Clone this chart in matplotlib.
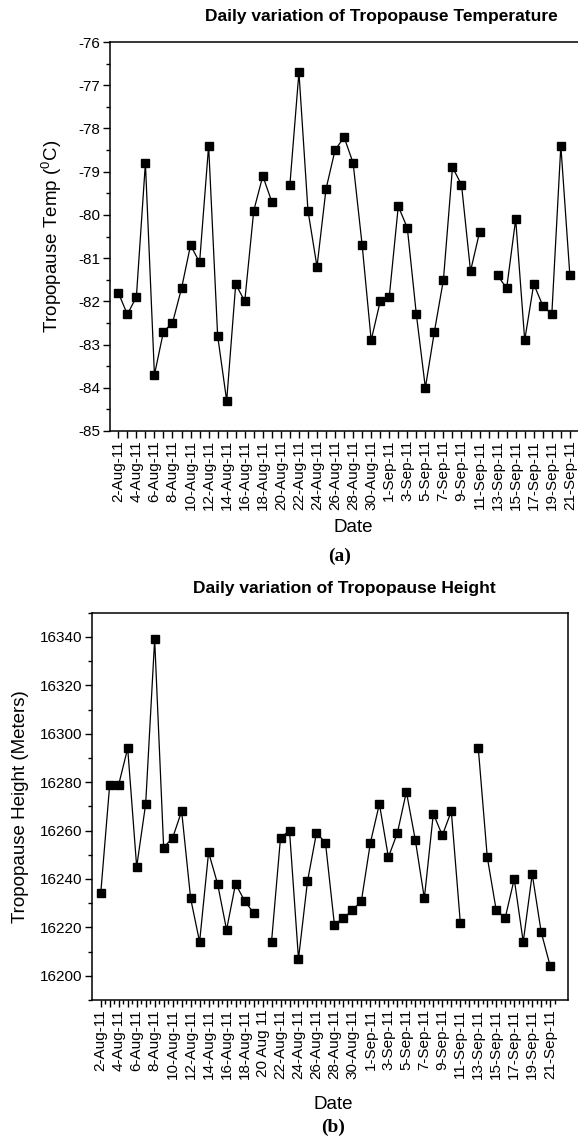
import numpy as np
import matplotlib
matplotlib.use("Agg")
import matplotlib.pyplot as plt
from matplotlib.ticker import MultipleLocator

plt.rcParams['font.family'] = ['Liberation Sans', 'DejaVu Sans']
plt.rcParams['axes.unicode_minus'] = False
plt.rcParams['mathtext.fontset'] = 'custom'
plt.rcParams['mathtext.rm'] = 'Liberation Sans'

# daily values 2-Aug-11 .. 21-Sep-11 (51 days), nan = no sounding
temp = [-81.8, -82.3, -81.9, -78.8, -83.7, -82.7, -82.5, -81.7, -80.7, -81.1,
        -78.4, -82.8, -84.3, -81.6, -82.0, -79.9, -79.1, -79.7, np.nan, -79.3,
        -76.7, -79.9, -81.2, -79.4, -78.5, -78.2, -78.8, -80.7, -82.9, -82.0,
        -81.9, -79.8, -80.3, -82.3, -84.0, -82.7, -81.5, -78.9, -79.3, -81.3,
        -80.4, np.nan, -81.4, -81.7, -80.1, -82.9, -81.6, -82.1, -82.3, -78.4,
        -81.4]
height = [16234, 16279, 16279, 16294, 16245, 16271, 16339, 16253, 16257, 16268,
          16232, 16214, 16251, 16238, 16219, 16238, 16231, 16226, np.nan, 16214,
          16257, 16260, 16207, 16239, 16259, 16255, 16221, 16224, 16227, 16231,
          16255, 16271, 16249, 16259, 16276, 16256, 16232, 16267, 16258, 16268,
          16222, np.nan, 16294, 16249, 16227, 16224, 16240, 16214, 16242, 16218,
          16204]

labels_a = ['2-Aug-11', '4-Aug-11', '6-Aug-11', '8-Aug-11', '10-Aug-11', '12-Aug-11',
            '14-Aug-11', '16-Aug-11', '18-Aug-11', '20-Aug-11', '22-Aug-11', '24-Aug-11',
            '26-Aug-11', '28-Aug-11', '30-Aug-11', '1-Sep-11', '3-Sep-11', '5-Sep-11',
            '7-Sep-11', '9-Sep-11', '11-Sep-11', '13-Sep-11', '15-Sep-11', '17-Sep-11',
            '19-Sep-11', '21-Sep-11']
labels_b = list(labels_a)
labels_b[9] = '20 Aug 11'

days = np.arange(len(temp))


def day_labels(labels):
    out = []
    for i in days:
        out.append(labels[i // 2] if i % 2 == 0 else '')
    return out


fig = plt.figure(figsize=(5.78, 11.41), dpi=100)

# ---- (a) temperature ----
ax1 = fig.add_axes([110 / 578, 1 - 431 / 1141, 468 / 578, 389 / 1141])
ax1.plot(days, temp, color='black', lw=0.9, marker='s', ms=5.8,
         mfc='black', mec='black')
ax1.set_xlim(-0.92, 50.9)
ax1.set_ylim(-85, -76)
ax1.yaxis.set_major_locator(MultipleLocator(1))
ax1.yaxis.set_minor_locator(MultipleLocator(0.5))
ax1.set_xticks(days)
ax1.set_xticklabels(day_labels(labels_a), rotation=90, fontsize=11)
ax1.tick_params(axis='x', length=5, width=1, pad=1.5)
ax1.tick_params(axis='y', which='major', length=5, width=1, labelsize=11, pad=2)
ax1.tick_params(axis='y', which='minor', length=3, width=1)
ax1.spines['right'].set_visible(False)
for s in ['left', 'top', 'bottom']:
    ax1.spines[s].set_linewidth(1.1)
ax1.set_ylabel('Tropopause Temp ($^{0}$C)', fontsize=13.5)
ax1.yaxis.set_label_coords(-0.098, 0.5)
ax1.set_xlabel('Date', fontsize=13.5)
ax1.xaxis.set_label_coords(0.519, -0.226)
fig.text(381 / 578, 1 - 17 / 1141, 'Daily variation of Tropopause Temperature',
         ha='center', va='center', fontsize=12.5, fontweight='bold')
fig.text(340 / 578, 1 - 556 / 1141, '(a)', ha='center', va='center',
         fontsize=14, fontweight='bold', family='Liberation Serif')

# ---- (b) height ----
ax2 = fig.add_axes([92 / 578, 1 - 1000 / 1141, 476 / 578, 387.3 / 1141])
ax2.plot(days, height, color='black', lw=0.9, marker='s', ms=5.8,
         mfc='black', mec='black')
ax2.set_xlim(-0.97, 51.98)
ax2.set_ylim(16190, 16350)
ax2.yaxis.set_major_locator(MultipleLocator(20))
ax2.yaxis.set_minor_locator(MultipleLocator(10))
ax2.set_xticks(days)
ax2.set_xticks(days + 0.5, minor=True)
ax2.set_xticklabels(day_labels(labels_b), rotation=90, fontsize=11)
ax2.tick_params(axis='x', which='major', length=5, width=1, pad=1.5)
ax2.tick_params(axis='x', which='minor', length=3, width=1)
ax2.tick_params(axis='y', which='major', length=5, width=1, labelsize=11, pad=2)
ax2.tick_params(axis='y', which='minor', length=3, width=1)
for s in ax2.spines.values():
    s.set_linewidth(1.1)
ax2.set_ylabel('Tropopause Height (Meters)', fontsize=13.5)
ax2.yaxis.set_label_coords(-0.132, 0.5)
ax2.set_xlabel('Date', fontsize=13.5)
ax2.xaxis.set_label_coords(0.506, -0.248)
fig.text(344 / 578, 1 - 588 / 1141, 'Daily variation of Tropopause Height',
         ha='center', va='center', fontsize=12.5, fontweight='bold')
fig.text(333 / 578, 1 - 1127 / 1141, '(b)', ha='center', va='center',
         fontsize=14, fontweight='bold', family='Liberation Serif')

fig.savefig('out.png', dpi=100)
